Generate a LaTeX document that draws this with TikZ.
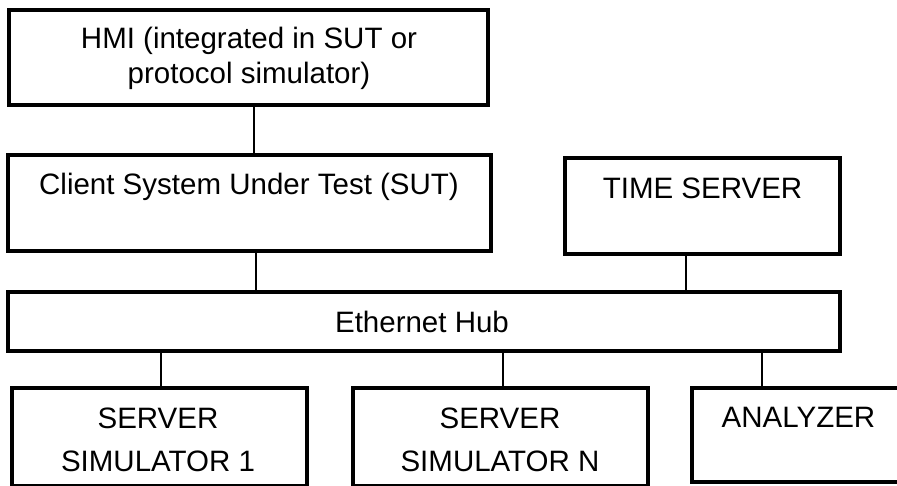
\documentclass[tikz,border=0pt]{standalone}
\usepackage{fontspec}
\setmainfont{Liberation Sans}

\tikzset{
  box/.style={draw, line width=3.7pt, inner sep=0pt},
  wire/.style={line width=1.3pt},
  lbl/.style={anchor=base, align=center, inner sep=0pt, font=\fontsize{29.5}{35}\selectfont}
}

\begin{document}
\begin{tikzpicture}[x=1pt,y=-1pt]
\useasboundingbox (0,0) rectangle (897,485);
\clip (0,0) rectangle (897,485);
% boxes
\node[box, minimum width=479, minimum height=95] (hmi) at (248.5,57.5) {};
\node[box, minimum width=483, minimum height=96] (client) at (249.5,203) {};
\node[box, minimum width=275, minimum height=96] (time) at (702.5,206) {};
\node[box, minimum width=832, minimum height=59] (hub) at (424,321.5) {};
\node[box, minimum width=295, minimum height=98] (sim1) at (159.5,437) {};
\node[box, minimum width=295, minimum height=98] (simN) at (500.5,437) {};
\node[box, minimum width=212, minimum height=94] (analyzer) at (798,435) {};
% texts (base = last line)
\node[lbl] (hmitxt) at (249,83.5) {HMI (integrated in SUT or\\protocol simulator)};
\node[lbl] (clienttxt) at (249,194) {Client System Under Test (SUT)};
\node[lbl] (timetxt) at (702.5,198) {TIME SERVER};
\node[lbl] (hubtxt) at (422,332) {Ethernet Hub};
\node[lbl] (sim1txt) at (158,471.7) {SERVER\\[8.5pt]SIMULATOR 1};
\node[lbl] (simNtxt) at (500,471.7) {SERVER\\[8.5pt]SIMULATOR N};
\node[lbl] (analyzertxt) at (798.5,427) {ANALYZER};
% links
\draw[wire] ([xshift=5.5]hmi.south) -- ([xshift=5.5]hmi.south |- client.north);
\draw[wire] ([xshift=6.5]client.south) -- ([xshift=6.5]client.south |- hub.north);
\draw[wire] ([xshift=-16.5]time.south) -- ([xshift=-16.5]time.south |- hub.north);
\draw[wire] ([xshift=1.5]sim1.north) -- ([xshift=1.5]sim1.north |- hub.south);
\draw[wire] ([xshift=2.5]simN.north) -- ([xshift=2.5]simN.north |- hub.south);
\draw[wire] ([xshift=-36]analyzer.north) -- ([xshift=-36]analyzer.north |- hub.south);
\end{tikzpicture}
\end{document}
